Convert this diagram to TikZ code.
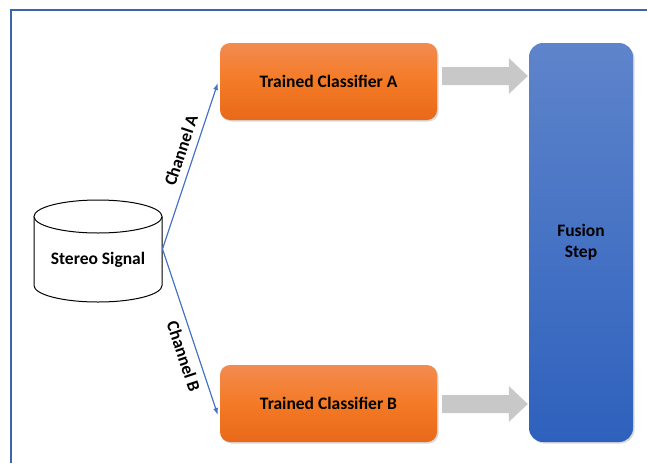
\documentclass[tikz,border=0pt]{standalone}
\usepackage{fontspec}
\setmainfont{Carlito}
\usetikzlibrary{arrows.meta,shadows,calc}

\definecolor{orangeTop}{HTML}{F38B50}
\definecolor{orangeMid}{HTML}{F47A25}
\definecolor{orangeBot}{HTML}{E8691A}
\definecolor{blueTop}{HTML}{5E84CB}
\definecolor{blueBot}{HTML}{2E61BD}
\definecolor{linkBlue}{HTML}{4472C4}
\definecolor{frameBlue}{HTML}{3D64A8}
\definecolor{blockGray}{HTML}{C8C8C8}

\begin{document}
\begin{tikzpicture}[x=1pt,y=-1pt,
  txt/.style={font=\bfseries\fontsize{17.5}{21}\selectfont, text=black},
  softshadow/.style={drop shadow={shadow xshift=1.5pt, shadow yshift=-1.5pt, opacity=0.25, fill=black!60}},
  clsbox/.style={txt, rounded corners=10pt, minimum width=217pt, minimum height=77pt,
    top color=orangeTop, bottom color=orangeBot, middle color=orangeMid, draw=none, softshadow},
  fusebox/.style={txt, rounded corners=14pt, minimum width=104pt, minimum height=399pt,
    top color=blueTop, bottom color=blueBot, draw=none, align=center, softshadow},
  link/.style={linkBlue, line width=1.2pt, -{Latex[length=7pt,width=5pt]}},
  chan/.style={txt, sloped, inner sep=7pt}
]
\useasboundingbox (0,0) rectangle (647,463);

% outer frame (top and left edges)
\draw[frameBlue, line width=1.5pt] (647,10) -- (11,10) -- (11,463);

% stereo signal store (cylinder)
\def\cx{98}\def\rx{64}\def\ry{16.5}\def\ytop{216.5}\def\ybot{285.5}
\draw[black, line width=1pt, fill=white]
  (\cx-\rx,\ytop) -- (\cx-\rx,\ybot)
  arc[start angle=180, end angle=360, x radius=\rx, y radius=-\ry]
  -- (\cx+\rx,\ytop);
\draw[black, line width=1pt, fill=white] (\cx,\ytop) ellipse[x radius=\rx, y radius=\ry];
\node[txt] (sig) at (98,260) {Stereo Signal};
\coordinate (src) at (162.5,249);

% classifiers and fusion
\node[clsbox] (A) at (328.5,81.5) {Trained Classifier A};
\node[clsbox] (B) at (328.5,403.5) {Trained Classifier B};
\node[fusebox] (F) at (581,242.5) {Fusion\\Step};

% channel links
\draw[link] (src) -- ([shift={(-2,1.5)}]A.west)
  node[chan, above, pos=0.57] {Channel A};
\draw[link] (src) -- ([shift={(-2,11.5)}]B.west)
  node[chan, below, pos=0.62] {Channel B};

% block arrows into the fusion step: shaft 18 high, head 36 high and 19 long
\newcommand{\blockarrow}[2]{%
  \fill[blockGray] ($(#1)+(0,-9)$) -- ($(#2)+(-19,-9)$) -- ($(#2)+(-19,-18)$)
    -- (#2) -- ($(#2)+(-19,18)$) -- ($(#2)+(-19,9)$) -- ($(#1)+(0,9)$) -- cycle;}
\coordinate (aS) at ([shift={(5,-5.5)}]A.east);
\coordinate (aT) at ([xshift=-1]aS -| F.west);
\coordinate (bS) at ([shift={(5,0.5)}]B.east);
\coordinate (bT) at ([xshift=-1]bS -| F.west);
\blockarrow{aS}{aT}
\blockarrow{bS}{bT}
\end{tikzpicture}
\end{document}
